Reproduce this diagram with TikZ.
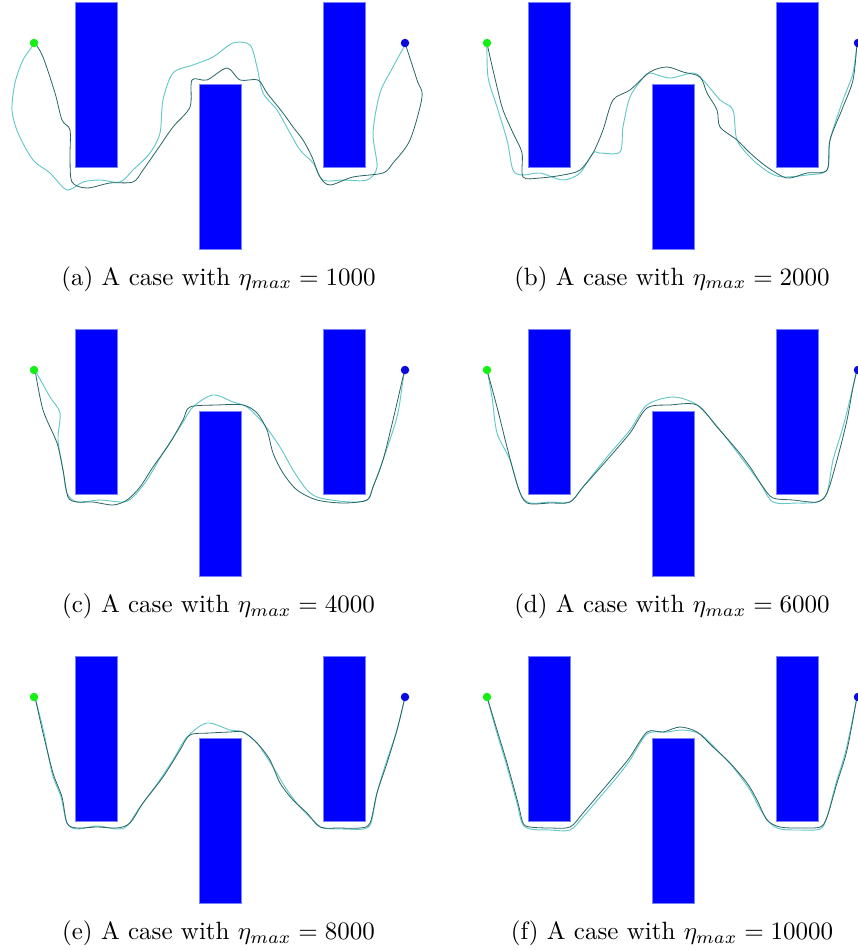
\documentclass[tikz,border=0pt]{standalone}
\usepackage{amsmath,amssymb}
\usepackage{xcolor}
\usepackage{tikz}
\usetikzlibrary{positioning,calc}
\definecolor{wallblue}{RGB}{0,0,255}
\definecolor{walledge}{RGB}{120,130,255}
\definecolor{startgreen}{RGB}{20,240,20}
\definecolor{goalblue}{RGB}{10,10,220}
\definecolor{darkteal}{RGB}{40,100,100}
\definecolor{lightteal}{RGB}{100,200,200}

\begin{document}
\begin{tikzpicture}[
 x=0.4pt,y=-0.4pt,
 obstacle/.style={fill=wallblue,draw=walledge,line width=0.3pt},
 darkpath/.style={draw=darkteal,line width=0.32pt,smooth,tension=0.5},
 lightpath/.style={draw=lightteal,line width=0.38pt,smooth,tension=0.5},
 startpt/.style={circle,fill=startgreen,inner sep=0pt,minimum size=3.4pt},
 goalpt/.style={circle,fill=goalblue,inner sep=0pt,minimum size=3.4pt},
 caption/.style={inner sep=0pt,font=\normalsize}]
 \useasboundingbox (0,0) rectangle (857,950);
 % obstacles and end points of the six runs
 \foreach \dx/\dy in {0/0,453/0,0/327,453/327,0/654,453/654}{
  \begin{scope}[shift={(\dx,\dy)}]
   \path[obstacle] (75,2) rectangle (117,167);
   \path[obstacle] (199,84) rectangle (241,249);
   \path[obstacle] (323,2) rectangle (365,167);
  \end{scope}
 }
 % (a)
 \draw[lightpath] plot coordinates {(35,43) (23,60) (15,83) (12,110) (18,133) (33,160) (50,173) (67,190) (83,182) (100,180) (120,182) (133,170) (150,153) (160,133) (163,100) (173,73) (193,65) (213,57) (233,43) (250,45) (257,67) (263,93) (277,110) (290,133) (300,150) (313,163) (323,180) (343,180) (367,180) (377,167) (373,133) (380,93) (393,67) (405,45)};
 \draw[darkpath] plot coordinates {(35,43) (43,57) (55,93) (62,120) (70,130) (70,157) (72,182) (87,188) (110,183) (133,182) (143,170) (157,150) (173,127) (190,107) (192,80) (207,80) (227,68) (240,80) (258,80) (267,93) (283,113) (293,127) (303,140) (312,157) (320,177) (330,185) (353,177) (383,173) (393,163) (410,140) (422,97) (417,80) (405,43)};
 % (b)
 \begin{scope}[shift={(453,0)}]
 \draw[lightpath] plot coordinates {(34,43) (35,77) (44,107) (54,140) (60,170) (70,175) (87,173) (110,180) (127,173) (140,153) (147,153) (167,152) (170,127) (177,97) (190,78) (197,73) (217,78) (240,73) (250,80) (267,100) (280,110) (284,140) (300,160) (317,173) (330,177) (354,175) (374,170) (377,140) (390,100) (400,73) (404,43)};
 \draw[darkpath] plot coordinates {(34,43) (37,57) (44,87) (50,110) (60,133) (69,153) (70,177) (87,178) (110,175) (127,170) (140,153) (150,130) (160,100) (177,90) (197,72) (214,67) (230,72) (247,77) (254,93) (264,110) (267,127) (284,140) (297,153) (314,167) (334,178) (354,173) (374,170) (377,140) (390,107) (400,80) (404,43)};
 \end{scope}
 % (c)
 \begin{scope}[shift={(0,327)}]
 \draw[lightpath] plot coordinates {(35,43) (50,70) (60,86) (58,113) (63,143) (67,166) (77,175) (100,173) (123,175) (133,170) (147,153) (163,126) (180,100) (193,80) (213,68) (233,75) (247,80) (263,96) (280,120) (293,143) (307,163) (320,171) (350,175) (367,173) (373,160) (383,133) (397,90) (403,53) (405,43)};
 \draw[darkpath] plot coordinates {(35,43) (43,83) (57,116) (63,143) (68,170) (77,175) (93,175) (113,178) (127,173) (140,160) (153,140) (170,116) (183,93) (190,80) (217,78) (243,78) (257,86) (267,103) (273,126) (283,146) (297,163) (317,173) (343,176) (367,173) (373,160) (383,133) (393,93) (403,50) (405,43)};
 \end{scope}
 % (d)
 \begin{scope}[shift={(453,327)}]
 \draw[lightpath] plot coordinates {(34,43) (39,70) (44,106) (57,133) (67,166) (77,176) (97,175) (117,175) (130,160) (154,130) (177,103) (194,78) (220,70) (244,78) (267,103) (290,133) (307,156) (320,175) (344,176) (364,175) (374,166) (380,133) (390,100) (400,60) (404,43)};
 \draw[darkpath] plot coordinates {(34,43) (44,80) (54,120) (65,160) (74,176) (97,176) (117,175) (130,160) (154,133) (177,106) (194,81) (217,78) (244,78) (264,100) (284,123) (297,140) (310,160) (320,171) (340,173) (364,175) (374,166) (384,133) (394,93) (400,60) (404,43)};
 \end{scope}
 % (e)
 \begin{scope}[shift={(0,654)}]
 \draw[lightpath] plot coordinates {(35,43) (44,79) (52,119) (61,143) (67,169) (77,175) (97,172) (117,175) (127,172) (140,153) (157,130) (173,106) (187,83) (207,69) (230,76) (243,78) (257,89) (273,113) (287,136) (300,153) (313,166) (323,174) (343,175) (363,175) (371,169) (377,139) (386,109) (397,76) (405,43)};
 \draw[darkpath] plot coordinates {(35,43) (43,79) (53,119) (62,143) (67,169) (77,174) (97,173) (117,174) (130,169) (143,149) (163,123) (180,96) (190,81) (210,79) (230,78) (243,78) (257,89) (270,106) (280,129) (293,146) (307,159) (320,173) (340,174) (360,174) (370,169) (377,139) (387,109) (397,76) (405,43)};
 \end{scope}
 % (f)
 \begin{scope}[shift={(453,654)}]
 \draw[lightpath] plot coordinates {(34,43) (43,76) (53,109) (64,149) (69,169) (77,175) (97,176) (117,176) (130,163) (147,143) (164,123) (177,106) (194,80) (214,78) (230,76) (247,80) (264,96) (280,113) (297,136) (306,153) (316,168) (327,175) (347,176) (367,175) (374,163) (383,129) (393,96) (404,43)};
 \draw[darkpath] plot coordinates {(34,43) (44,76) (54,109) (65,149) (70,169) (77,173) (97,174) (117,173) (130,159) (147,139) (164,119) (177,103) (194,78) (210,78) (227,73) (244,78) (260,93) (277,109) (294,129) (304,146) (314,166) (327,173) (347,174) (367,173) (374,163) (384,129) (394,96) (404,43)};
 \end{scope}
 % start and goal
 \foreach \dx/\dy [count=\i] in {0/0,453/0,0/327,453/327,0/654,453/654}{
  \node[startpt] (start\i) at ($(34,43)+(\dx,\dy)$) {};
  \node[goalpt] (goal\i) at ($(405,43)+(\dx,\dy)$) {};
 }
 % captions
 \node[caption] (capa) at (218.5,279) {(a) A case with $\eta_{max} = 1000$};
 \node[caption] (capb) at (672,279) {(b) A case with $\eta_{max} = 2000$};
 \node[caption] (capc) at (218.5,606) {(c) A case with $\eta_{max} = 4000$};
 \node[caption] (capd) at (672,606) {(d) A case with $\eta_{max} = 6000$};
 \node[caption] (cape) at (218.5,933) {(e) A case with $\eta_{max} = 8000$};
 \node[caption] (capf) at (672,933) {(f) A case with $\eta_{max} = 10000$};
\end{tikzpicture}
\end{document}
